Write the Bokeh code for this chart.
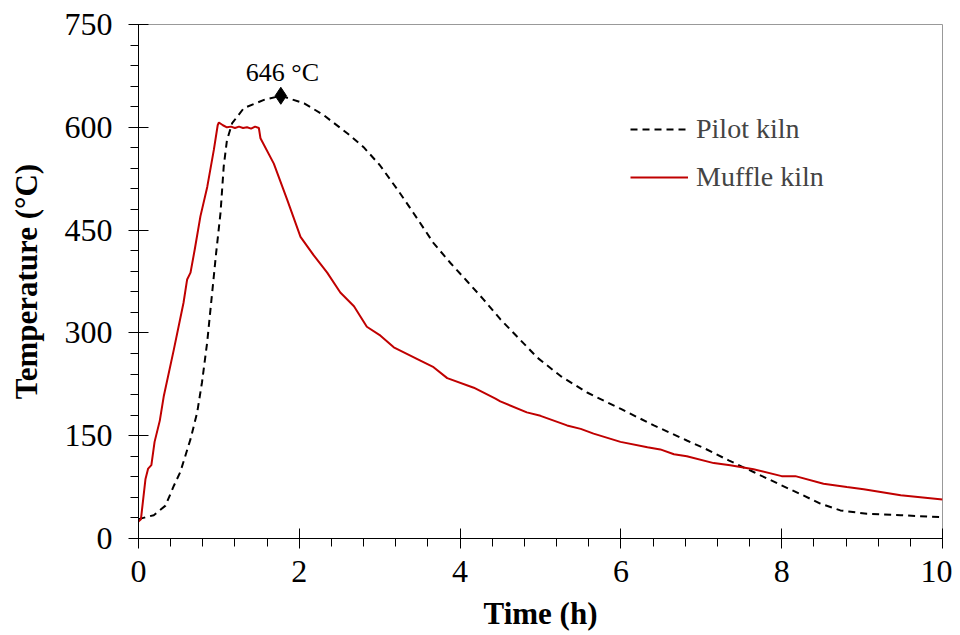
from bokeh.plotting import figure
from bokeh.models import Range1d, FixedTicker, Legend, LegendItem
from bokeh.core.properties import value
from bokeh.embed import file_html
from bokeh.resources import INLINE

# ---- data ----
muffle_time = [0.0, 0.03, 0.087, 0.12, 0.16, 0.2, 0.265, 0.315, 0.44, 0.56, 0.605, 0.647,
               0.70, 0.77, 0.855, 0.937, 0.985, 1.0, 1.05, 1.1, 1.15, 1.2, 1.25, 1.3, 1.35,
               1.4, 1.45, 1.497, 1.517, 1.683, 1.85, 2.015, 2.18, 2.347, 2.51, 2.68, 2.84,
               3.01, 3.175, 3.5, 3.67, 3.84, 4.17, 4.44, 4.5, 4.83, 5.0, 5.33, 5.5, 5.66,
               5.995, 6.33, 6.49, 6.66, 6.82, 7.155, 7.36, 7.65, 8.0, 8.17, 8.52, 8.81,
               9.02, 9.48, 10.0]
muffle_temp = [25, 28, 87, 102, 107, 141, 172, 208, 276, 344, 378, 388,
               422, 470, 513, 567, 603, 607, 603, 600, 601, 599, 601, 599, 600,
               598, 601, 599, 584, 547, 494, 440, 413, 388, 359, 339, 309,
               296, 279, 260, 250, 234, 220, 204, 200, 184, 179, 165, 160, 153,
               141, 133, 130, 123, 120, 110, 107, 101, 91, 91, 80, 75,
               72, 63, 57]

pilot_time = [0.0, 0.025, 0.19, 0.336, 0.44, 0.52, 0.647, 0.73, 0.79, 0.854, 0.895, 0.937,
              0.966, 1.02, 1.06, 1.10, 1.165, 1.31, 1.56, 1.77, 2.06, 2.30, 2.6, 2.80,
              3.0, 3.24, 3.42, 3.67, 3.88, 4.09, 4.29, 4.50, 4.73, 4.96, 5.25, 5.58,
              6.0, 6.41, 6.82, 7.05, 7.34, 7.65, 7.99, 8.23, 8.48, 8.73, 9.06, 9.48, 10.0]
pilot_temp = [28, 29, 34, 48, 77, 97, 145, 184, 228, 286, 334, 383,
              417, 475, 543, 581, 606, 628, 640, 646, 635, 618, 591, 571,
              545, 506, 475, 431, 402, 375, 349, 320, 292, 264, 237, 213,
              189, 165, 143, 131, 114, 97, 78, 65, 51, 41, 36, 34, 31]

peak_time = [1.77]
peak_temp = [646]
peak_label = ["646 \u00b0C"]
peak_label_pos = [1.79, 680]

x_ticks = [0, 2, 4, 6, 8, 10]
x_minor = [0.4, 0.8, 1.2, 1.6, 2.4, 2.8, 3.2, 3.6, 4.4, 4.8, 5.2, 5.6,
           6.4, 6.8, 7.2, 7.6, 8.4, 8.8, 9.2, 9.6]
y_ticks = [0, 150, 300, 450, 600, 750]
y_minor = [30, 60, 90, 120, 180, 210, 240, 270, 330, 360, 390, 420,
           480, 510, 540, 570, 630, 660, 690, 720]

FONT = "Liberation Serif"

p = figure(width=952, height=633, output_backend="svg", toolbar_location=None,
           x_range=Range1d(0, 10), y_range=Range1d(0, 750))
p.min_border_left = 138
p.min_border_right = 10
p.min_border_top = 24
p.min_border_bottom = 93

p.xgrid.visible = False
p.ygrid.visible = False
p.outline_line_color = "#999999"
p.outline_line_width = 1
p.background_fill_color = "white"
p.border_fill_color = "white"

for ax, ticks, minor in ((p.xaxis, x_ticks, x_minor), (p.yaxis, y_ticks, y_minor)):
    ax.ticker = FixedTicker(ticks=ticks, minor_ticks=minor)
    ax.axis_line_color = "black"
    ax.axis_line_width = 1
    ax.major_tick_line_color = "black"
    ax.minor_tick_line_color = "black"
    ax.major_tick_in = 10
    ax.major_tick_out = 10
    ax.minor_tick_in = 0
    ax.minor_tick_out = 8
    ax.major_label_text_font = FONT
    ax.major_label_text_font_size = "32px"
    ax.major_label_text_color = "black"
    ax.axis_label_text_font = FONT
    ax.axis_label_text_font_size = "31px"
    ax.axis_label_text_font_style = "bold"
    ax.axis_label_text_color = "black"

p.xaxis.axis_label = "Time (h)"
p.yaxis.axis_label = "Temperature (\u00b0C)"
p.xaxis.major_label_standoff = 12
p.xaxis.axis_label_standoff = 11
p.yaxis.major_label_standoff = 16
p.yaxis.axis_label_standoff = 18

r_pilot = p.line(pilot_time, pilot_temp, line_color="black", line_width=2,
                 line_dash="7 5")
r_muffle = p.line(muffle_time, muffle_temp, line_color="#C00000", line_width=2)

p.scatter(peak_time, peak_temp, marker="diamond", size=17, color="black")
p.text(x=[peak_label_pos[0]], y=[peak_label_pos[1]], text=peak_label,
       text_font=value(FONT), text_font_size="26px", text_align="center",
       text_baseline="middle", text_color="black")

legend = Legend(items=[LegendItem(label="Pilot kiln", renderers=[r_pilot]),
                       LegendItem(label="Muffle kiln", renderers=[r_muffle])],
                location=(492, 345))
legend.border_line_color = None
legend.background_fill_alpha = 0
legend.label_text_font = FONT
legend.label_text_font_size = "28px"
legend.glyph_width = 58
legend.glyph_height = 24
legend.label_height = 24
legend.spacing = 16
legend.label_standoff = 8
legend.padding = 0
legend.margin = 0
p.add_layout(legend)

open("out.html", "w").write(file_html(p, INLINE))
